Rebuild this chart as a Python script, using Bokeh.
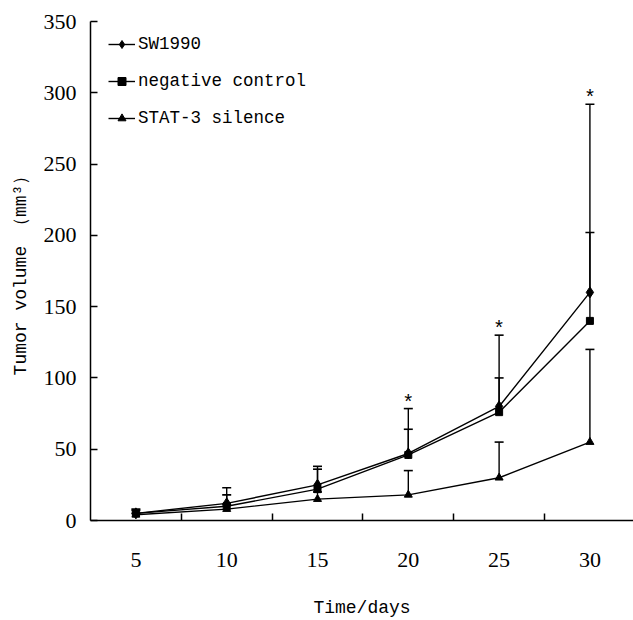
from bokeh.plotting import figure
from bokeh.models import (ColumnDataSource, Whisker, TeeHead, Legend, LegendItem,
                          Range1d, FixedTicker)
from bokeh.core.properties import value
from bokeh.embed import file_html
from bokeh.resources import INLINE

days = [5, 10, 15, 20, 25, 30]
sw1990 = [5, 12, 25, 47, 80, 160]
sw1990_err = [3, 11, 13, 31.5, 50, 132]
neg_ctrl = [5, 10, 22, 46, 76, 140]
neg_ctrl_err = [2, 8, 14, 18, 24, 62]
stat3 = [4, 8, 15, 18, 30, 55]
stat3_err = [1, 3, 5, 17, 25, 65]
signif_days = [20, 25, 30]
y_ticks = [0, 50, 100, 150, 200, 250, 300, 350]
x_minor_ticks = [7.5, 12.5, 17.5, 22.5, 27.5]

MONO = "Liberation Mono"
SERIF = "Liberation Serif"

p = figure(width=633, height=620, x_range=Range1d(2.5, 32.4), y_range=Range1d(0, 350),
           output_backend="svg", toolbar_location=None,
           min_border_left=90, min_border_right=0, min_border_top=21, min_border_bottom=100)
p.outline_line_color = None
p.xgrid.visible = False
p.ygrid.visible = False
p.background_fill_color = "white"
p.border_fill_color = "white"

series = [
    ("SW1990", sw1990, sw1990_err, "diamond", 11),
    ("negative control", neg_ctrl, neg_ctrl_err, "square", 7),
    ("STAT-3 silence", stat3, stat3_err, "triangle", 8),
]

items = []
for name, vals, errs, marker, size in series:
    src = ColumnDataSource(dict(x=days, y=vals, hi=[v + e for v, e in zip(vals, errs)]))
    w = Whisker(base="x", lower="y", upper="hi", source=src, line_color="black", line_width=1.4,
                lower_head=None, upper_head=TeeHead(size=9, line_color="black", line_width=1.6))
    p.add_layout(w)
    l = p.line("x", "y", source=src, line_color="black", line_width=1.4)
    s = p.scatter("x", "y", source=src, marker=marker, size=size, fill_color="black", line_color="black")
    items.append(LegendItem(label=name, renderers=[l, s]))

# significance asterisks above SW1990 error bars
ast_y = [sw1990[days.index(d)] + sw1990_err[days.index(d)] for d in signif_days]
p.text(x=signif_days, y=ast_y, text=["*"] * len(signif_days), text_align="center",
       text_baseline="bottom", y_offset=6, text_font=value(MONO), text_font_size="20px",
       text_color="black")

legend = Legend(items=items, location=(18, 392), orientation="vertical",
                label_text_font=MONO, label_text_font_size="17.5px", label_text_color="black",
                glyph_width=27, glyph_height=20, label_height=20, spacing=17,
                label_standoff=3, padding=0, margin=0,
                background_fill_alpha=0, border_line_color=None)
p.add_layout(legend)

# axes
xa = p.xaxis[0]
xa.ticker = FixedTicker(ticks=days, minor_ticks=x_minor_ticks)
xa.major_tick_line_color = None
xa.minor_tick_in = 7
xa.minor_tick_out = 0
xa.minor_tick_line_color = "black"
xa.minor_tick_line_width = 1.5
xa.axis_line_width = 1.5
xa.axis_line_color = "black"
xa.major_label_standoff = 26
xa.major_label_text_font = SERIF
xa.major_label_text_font_size = "22px"
xa.major_label_text_color = "black"
xa.axis_label = "Time/days"
xa.axis_label_text_font = MONO
xa.axis_label_text_font_size = "18px"
xa.axis_label_text_font_style = "normal"
xa.axis_label_text_color = "black"
xa.axis_label_standoff = 28

ya = p.yaxis[0]
ya.ticker = FixedTicker(ticks=y_ticks, minor_ticks=[])
ya.major_tick_in = 7
ya.major_tick_out = 0
ya.major_tick_line_width = 1.5
ya.axis_line_width = 1.5
ya.axis_line_color = "black"
ya.major_label_standoff = 14
ya.major_label_text_font = SERIF
ya.major_label_text_font_size = "22px"
ya.major_label_text_color = "black"
ya.axis_label = "Tumor volume \uff08mm\u00b3\uff09"
ya.axis_label_text_font = MONO
ya.axis_label_text_font_size = "18px"
ya.axis_label_text_font_style = "normal"
ya.axis_label_text_color = "black"
ya.axis_label_standoff = 10

open("out.html", "w").write(file_html(p, INLINE))
